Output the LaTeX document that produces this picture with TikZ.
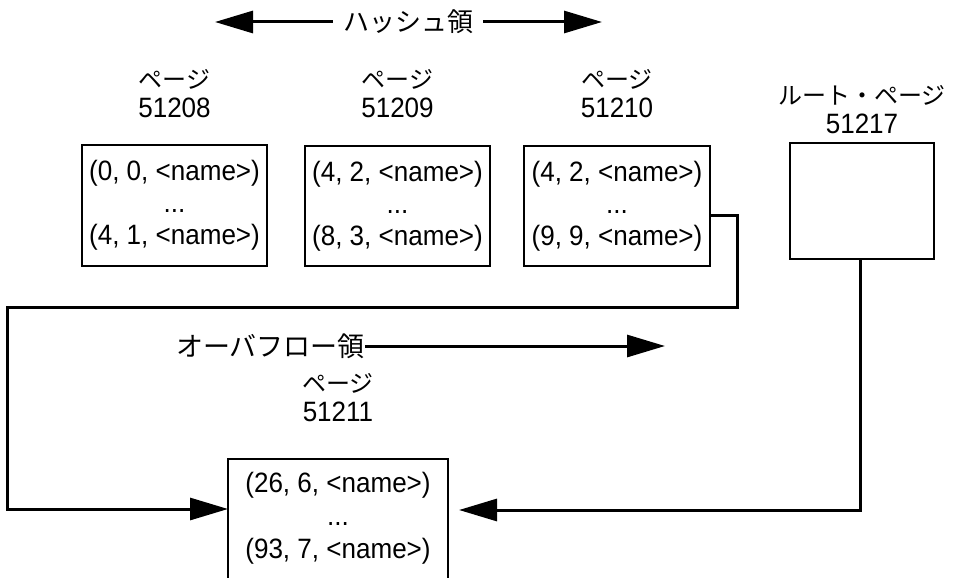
\documentclass[tikz,border=0pt]{standalone}
\usepackage{fontspec}
\setmainfont{Liberation Sans}[FakeStretch=0.93]
\newfontfamily\jp{Noto Sans CJK JP}
\usetikzlibrary{arrows.meta}
\begin{document}
\begin{tikzpicture}[x=1pt,y=-1pt,
  jlab/.style={font=\fontsize{24}{28}\selectfont\jp, inner sep=0pt},
  nlab/.style={font=\fontsize{28}{30}\selectfont, inner sep=0pt},
  pagebox/.style={draw, line width=2pt, inner sep=0pt, align=center, font=\fontsize{28}{32}\selectfont},
  conn/.style={line width=3pt},
  tip/.style={-{Triangle[length=38pt,width=22pt]}}
]
\useasboundingbox (0,0) rectangle (964,578);

% top arrow
\node[jlab, font=\fontsize{26}{28}\selectfont\jp] (hash) at (408,22) {ハッシュ領};
\coordinate (hl) at (215,22);
\coordinate (hr) at (602,22);
\draw[conn,tip] ([xshift=-10pt]hash.west) -- (hl);
\draw[conn,tip] ([xshift=10pt]hash.east) -- (hr);

% page labels
\node[jlab] (p1) at (174.5,79) {ページ};
\node[nlab] (n1) at (174.5,108) {51208};
\node[jlab] (p2) at (397.5,79) {ページ};
\node[nlab] (n2) at (397.5,108) {51209};
\node[jlab] (p3) at (617,79) {ページ};
\node[nlab] (n3) at (617,108) {51210};
\node[jlab] (p4) at (862,95) {ルート・ページ};
\node[nlab] (n4) at (862,124) {51217};

% boxes
\node[pagebox, minimum width=185pt, minimum height=121pt] (b1) at (174.5,205.5)
  {(0, 0, <name>)\\...\\(4, 1, <name>)};
\node[pagebox, minimum width=185pt, minimum height=120pt] (b2) at (397.5,206)
  {(4, 2, <name>)\\...\\(8, 3, <name>)};
\node[pagebox, minimum width=186pt, minimum height=120pt] (b3) at (617,206)
  {(4, 2, <name>)\\...\\(9, 9, <name>)};
\node[pagebox, minimum width=144pt, minimum height=116pt] (root) at (862,201) {};

% overflow label
\node[jlab, font=\fontsize{27}{28}\selectfont\jp, anchor=east] (ovf) at (365,346) {オーバフロー領};
\coordinate (ovt) at (665,346);
\draw[conn,tip] (ovf.east) -- (ovt);

\node[jlab] (p5) at (338,383) {ページ};
\node[nlab] (n5) at (338,412) {51211};

% bottom box (open at bottom)
\node[inner sep=0pt, align=center, minimum width=220pt, minimum height=119pt,
      font=\fontsize{28}{33}\selectfont] (bot) at (338,518.5)
  {(26, 6, <name>)\\...\\(93, 7, <name>)};
\draw[line width=2pt] (bot.south west) -- (bot.north west) -- (bot.north east) -- (bot.south east);

% connectors
\coordinate (c1) at (737,215);
\coordinate (c2) at (737,307);
\coordinate (c3) at (7,307);
\coordinate (c4) at (7,509);
\coordinate (c5) at (228,509);
\draw[conn,tip] ([yshift=-9pt]b3.east) -- (c1) -- (c2) -- (c3) -- (c4) -- (c5);

\coordinate (r1) at (860,510);
\coordinate (r2) at (459,510);
\draw[conn,tip] (root.south -| r1) -- (r1) -- (r2);
\end{tikzpicture}
\end{document}
